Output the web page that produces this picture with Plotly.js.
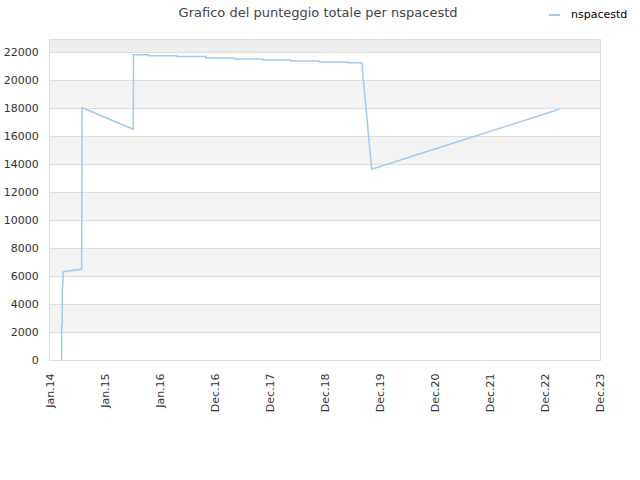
<!DOCTYPE html>
<html>
<head>
<meta charset="utf-8">
<script src="https://cdn.plot.ly/plotly-3.0.1.min.js"></script>
<style>
  html, body { margin: 0; padding: 0; background: #fff; }
  #chart { width: 640px; height: 480px; }
</style>
</head>
<body>
<div id="chart"></div>
<script>
// punteggio totale
const dates = [
  '2014-03-19', '2014-03-19', '2014-03-23', '2014-03-24', '2014-03-30',
  '2014-07-30', '2014-08-02', '2015-07-08', '2015-07-09',
  '2015-10-15', '2015-10-16', '2016-04-21', '2016-04-22',
  '2016-11-01', '2016-11-02', '2017-05-06', '2017-05-07',
  '2017-11-12', '2017-11-13', '2018-05-19', '2018-05-20',
  '2018-11-23', '2018-11-24', '2019-05-31', '2019-06-01',
  '2019-09-01', '2019-11-06', '2023-04-04'
];
const scores = [
  0, 2500, 2500, 4790, 6310,
  6480, 18020, 16480, 21800,
  21800, 21740, 21740, 21670,
  21670, 21570, 21570, 21500,
  21500, 21430, 21430, 21360,
  21360, 21290, 21290, 21240,
  21240, 13620, 17910
];

const yTicks = [0, 2000, 4000, 6000, 8000, 10000, 12000, 14000, 16000, 18000, 20000, 22000];
const yTop = 22857;
const xTickVals = ['2014-01-01', '2015-01-01', '2016-01-01', '2016-12-31', '2017-12-31',
  '2018-12-31', '2019-12-31', '2020-12-30', '2021-12-30', '2022-12-30', '2023-12-30'];
const xTickText = ['Jan.14', 'Jan.15', 'Jan.16', 'Dec.16', 'Dec.17', 'Dec.18',
  'Dec.19', 'Dec.20', 'Dec.21', 'Dec.22', 'Dec.23'];
const seriesName = 'nspacestd';
const lineColor = '#9dcaf4';

// bande alternate grigie
const shapes = [];
const edges = yTicks.concat([yTop]);
for (let i = 0; i < edges.length - 1; i++) {
  if (i % 2 === 1) {
    shapes.push({
      type: 'rect', xref: 'paper', yref: 'y', layer: 'below',
      x0: 0, x1: 1, y0: edges[i], y1: edges[i + 1],
      fillcolor: i === edges.length - 2 ? '#eeeeee' : '#f3f3f3', line: { width: 0 }
    });
  }
}
// campione della legenda
shapes.push({
  type: 'line', xref: 'paper', yref: 'paper',
  x0: 0.907, x1: 0.927, y0: 1.078, y1: 1.078,
  line: { color: lineColor, width: 2 }
});

Plotly.newPlot('chart', [{
  x: dates,
  y: scores,
  type: 'scatter',
  mode: 'lines',
  name: seriesName,
  line: { color: lineColor, width: 1.5 }
}], {
  width: 640,
  height: 480,
  margin: { l: 50, r: 40, t: 40, b: 120 },
  paper_bgcolor: '#ffffff',
  plot_bgcolor: '#ffffff',
  showlegend: false,
  font: { family: 'DejaVu Sans', size: 11, color: '#333333' },
  title: {
    text: 'Grafico del punteggio totale per nspacestd',
    font: { family: 'DejaVu Sans', size: 13, color: '#444444' },
    xref: 'container', yref: 'container', x: 0.497, y: 0.975,
    xanchor: 'center', yanchor: 'middle'
  },
  xaxis: {
    type: 'date',
    range: ['2014-01-01', '2023-12-30'],
    tickmode: 'array',
    tickvals: xTickVals,
    ticktext: xTickText,
    tickangle: -90,
    showgrid: false,
    zeroline: false,
    showline: true,
    mirror: true,
    linecolor: '#dddddd',
    ticks: '',
    ticklabelstandoff: 8,
    tickfont: { size: 11, color: '#333333' }
  },
  yaxis: {
    range: [0, yTop],
    tickmode: 'array',
    tickvals: yTicks,
    tickformat: 'd',
    showgrid: true,
    gridcolor: '#dddddd',
    zeroline: false,
    showline: true,
    mirror: true,
    linecolor: '#dddddd',
    ticks: '',
    ticklabelstandoff: 8,
    tickfont: { size: 11, color: '#333333' }
  },
  shapes: shapes,
  annotations: [{
    text: seriesName,
    xref: 'paper', yref: 'paper',
    x: 0.944, y: 1.081,
    xanchor: 'left', yanchor: 'middle',
    showarrow: false,
    font: { family: 'DejaVu Sans', size: 11, color: '#000000' }
  }]
}, { displayModeBar: false });
</script>
</body>
</html>
